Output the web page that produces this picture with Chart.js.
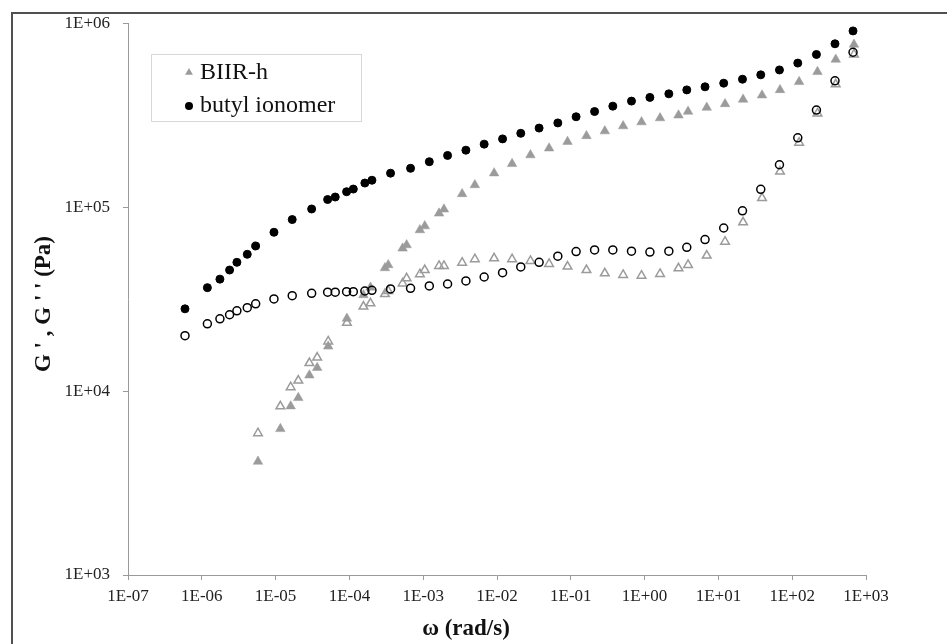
<!DOCTYPE html>
<html>
<head>
<meta charset="utf-8">
<script src="https://cdn.jsdelivr.net/npm/chart.js@4.4.1/dist/chart.umd.min.js"></script>
<style>
  html, body { margin: 0; padding: 0; background: #fff; overflow: hidden; }
  #wrap { position: relative; width: 947px; height: 644px; overflow: hidden; }
  #frame {
    position: absolute; left: 11px; top: 12px; width: 960px; height: 660px;
    border-left: 2px solid #505050; border-top: 2px solid #505050;
    box-sizing: border-box; pointer-events: none;
  }
  canvas { position: absolute; left: 0; top: 0; }
</style>
</head>
<body>
<div id="wrap">
  <canvas id="chart" width="947" height="644"></canvas>
  <div id="frame"></div>
</div>
<script>
// frequency (rad/s) and moduli (Pa)
const butylFreq = [5.92e-7, 1.19e-6, 1.76e-6, 2.38e-6, 2.99e-6, 4.13e-6, 5.37e-6, 9.5e-6, 1.68e-5, 3.08e-5,
  5.07e-5, 6.43e-5, 9.16e-5, 1.13e-4, 1.62e-4, 2.02e-4, 3.61e-4, 6.74e-4, 1.21e-3, 2.14e-3,
  3.79e-3, 6.7e-3, 1.19e-2, 2.10e-2, 3.72e-2, 6.67e-2, 0.118, 0.210, 0.371, 0.664,
  1.18, 2.13, 3.73, 6.59, 11.8, 21.2, 37.5, 67.2, 119, 213, 380, 667];
const butylGp = [2.80e4, 3.65e4, 4.06e4, 4.55e4, 5.01e4, 5.54e4, 6.15e4, 7.30e4, 8.56e4, 9.77e4,
  1.10e5, 1.135e5, 1.213e5, 1.254e5, 1.352e5, 1.40e5, 1.53e5, 1.626e5, 1.766e5, 1.91e5,
  2.04e5, 2.20e5, 2.35e5, 2.52e5, 2.69e5, 2.87e5, 3.10e5, 3.31e5, 3.54e5, 3.77e5,
  3.95e5, 4.13e5, 4.34e5, 4.51e5, 4.72e5, 4.96e5, 5.24e5, 5.57e5, 6.07e5, 6.76e5, 7.73e5, 9.08e5];
const butylGpp = [2.00e4, 2.32e4, 2.47e4, 2.60e4, 2.73e4, 2.84e4, 2.98e4, 3.17e4, 3.30e4, 3.40e4,
  3.45e4, 3.45e4, 3.47e4, 3.47e4, 3.50e4, 3.53e4, 3.59e4, 3.62e4, 3.73e4, 3.82e4,
  3.97e4, 4.17e4, 4.40e4, 4.73e4, 5.01e4, 5.41e4, 5.73e4, 5.85e4, 5.85e4, 5.76e4,
  5.70e4, 5.76e4, 6.05e4, 6.66e4, 7.70e4, 9.55e4, 1.25e5, 1.70e5, 2.38e5, 3.37e5, 4.86e5, 6.95e5];

const biirFreq = [5.77e-6, 1.16e-5, 1.60e-5, 2.03e-5, 2.87e-5, 3.66e-5, 5.16e-5, 9.25e-5, 1.55e-4, 1.93e-4,
  3.03e-4, 3.36e-4, 5.26e-4, 5.96e-4, 9.02e-4, 1.05e-3, 1.64e-3, 1.91e-3, 3.37e-3, 5.01e-3,
  9.14e-3, 1.60e-2, 2.84e-2, 5.08e-2, 9.03e-2, 0.163, 0.289, 0.512, 0.908, 1.62,
  2.88, 3.88, 6.95, 12.3, 21.6, 39.0, 68.4, 124, 220, 389, 687];
const biirGp = [4.14e3, 6.23e3, 8.28e3, 9.19e3, 1.22e4, 1.34e4, 1.75e4, 2.48e4, 3.33e4, 3.66e4,
  4.67e4, 4.85e4, 5.97e4, 6.22e4, 7.51e4, 7.89e4, 9.25e4, 9.73e4, 1.18e5, 1.32e5,
  1.53e5, 1.72e5, 1.92e5, 2.09e5, 2.27e5, 2.44e5, 2.59e5, 2.76e5, 2.90e5, 3.05e5,
  3.16e5, 3.31e5, 3.48e5, 3.64e5, 3.85e5, 4.06e5, 4.34e5, 4.80e5, 5.44e5, 6.35e5, 7.66e5];
const biirGpp = [5.90e3, 8.26e3, 1.05e4, 1.14e4, 1.42e4, 1.52e4, 1.86e4, 2.35e4, 2.88e4, 3.00e4,
  3.37e4, 3.50e4, 3.85e4, 4.10e4, 4.32e4, 4.55e4, 4.79e4, 4.79e4, 4.99e4, 5.21e4,
  5.27e4, 5.21e4, 5.10e4, 4.91e4, 4.75e4, 4.55e4, 4.37e4, 4.28e4, 4.24e4, 4.33e4,
  4.65e4, 4.85e4, 5.45e4, 6.49e4, 8.27e4, 1.12e5, 1.56e5, 2.24e5, 3.23e5, 4.65e5, 6.76e5];

const xTicks = [1e-7, 1e-6, 1e-5, 1e-4, 1e-3, 1e-2, 1e-1, 1e0, 1e1, 1e2, 1e3];
const yTicks = [1e3, 1e4, 1e5, 1e6];

const legendItems = ['BIIR-h', 'butyl ionomer'];
const xTitle = 'ω (rad/s)';
const yTitle = "G ' , G ' ' (Pa)";

const GRAY = '#9b9b9b';
const AXIS = '#9a9a9a';
const SERIF = '"Liberation Serif", "Times New Roman", serif';

function pts(xs, ys) {
    return xs.map((x, i) => ({ x, y: ys[i] }));
}

// 1E-07 style labels
function expLabel(v) {
    const e = Math.round(Math.log10(v));
    return '1E' + (e < 0 ? '-' : '+') + String(Math.abs(e)).padStart(2, '0');
}

function tri(ctx, x, y, r) {
    ctx.beginPath();
    ctx.moveTo(x, y - r);
    ctx.lineTo(x + r * Math.sin(2 * Math.PI / 3), y + r / 2);
    ctx.lineTo(x - r * Math.sin(2 * Math.PI / 3), y + r / 2);
    ctx.closePath();
}

// axis titles and the inner legend box
const annotate = {
    id: 'annotate',
    afterDraw(chart) {
        const ctx = chart.ctx;
        ctx.save();
        ctx.fillStyle = '#111';
        ctx.font = 'bold 23px ' + SERIF;
        ctx.textAlign = 'center';
        ctx.textBaseline = 'middle';
        ctx.fillText(xTitle, 466, 629);

        ctx.translate(44, 304);
        ctx.rotate(-Math.PI / 2);
        ctx.fillText(yTitle, 0, 0);
        ctx.restore();

        ctx.save();
        ctx.strokeStyle = '#d8d8d8';
        ctx.lineWidth = 1;
        ctx.strokeRect(151.5, 54.5, 210, 67);

        ctx.fillStyle = GRAY;
        tri(ctx, 189, 72.5, 4.5);
        ctx.fill();
        ctx.fillStyle = '#000';
        ctx.beginPath();
        ctx.arc(189, 106, 4, 0, Math.PI * 2);
        ctx.fill();

        ctx.fillStyle = '#111';
        ctx.font = '24px ' + SERIF;
        ctx.textAlign = 'left';
        ctx.textBaseline = 'alphabetic';
        ctx.fillText(legendItems[0], 200, 79);
        ctx.fillText(legendItems[1], 200, 112);
        ctx.restore();
    }
};

const tickFont = { family: SERIF, size: 17 };

new Chart(document.getElementById('chart'), {
    type: 'scatter',
    data: {
        datasets: [
            {
                label: 'butyl ionomer G\'',
                data: pts(butylFreq, butylGp),
                pointStyle: 'circle',
                pointRadius: 4,
                borderWidth: 1,
                backgroundColor: '#000',
                borderColor: '#000'
            },
            {
                label: 'butyl ionomer G\'\'',
                data: pts(butylFreq, butylGpp),
                pointStyle: 'circle',
                pointRadius: 4,
                borderWidth: 1.5,
                backgroundColor: 'rgba(255,255,255,0)',
                borderColor: '#000'
            },
            {
                label: 'BIIR-h G\'',
                data: pts(biirFreq, biirGp),
                pointStyle: 'triangle',
                pointRadius: 5.5,
                borderWidth: 0.5,
                backgroundColor: GRAY,
                borderColor: GRAY
            },
            {
                label: 'BIIR-h G\'\'',
                data: pts(biirFreq, biirGpp),
                pointStyle: 'triangle',
                pointRadius: 5,
                borderWidth: 1.5,
                backgroundColor: 'rgba(255,255,255,0)',
                borderColor: GRAY
            }
        ]
    },
    options: {
        responsive: false,
        animation: false,
        events: [],
        layout: { padding: { left: 0, right: 81, top: 23, bottom: 0 } },
        plugins: {
            legend: { display: false },
            tooltip: { enabled: false }
        },
        scales: {
            x: {
                type: 'logarithmic',
                min: 1e-7,
                max: 1e3,
                afterBuildTicks: s => { s.ticks = xTicks.map(v => ({ value: v })); },
                afterFit: s => { s.height = 69; },
                ticks: {
                    callback: v => expLabel(v),
                    font: tickFont,
                    color: '#222',
                    padding: 6,
                    autoSkip: false,
                    maxRotation: 0
                },
                grid: { display: true, drawOnChartArea: false, drawTicks: true, tickLength: 5, color: AXIS },
                border: { display: true, color: AXIS, width: 1 }
            },
            y: {
                type: 'logarithmic',
                min: 1e3,
                max: 1e6,
                afterBuildTicks: s => { s.ticks = yTicks.map(v => ({ value: v })); },
                afterFit: s => { s.width = 128; },
                ticks: {
                    callback: v => expLabel(v),
                    font: tickFont,
                    color: '#222',
                    padding: 13,
                    autoSkip: false
                },
                grid: { display: true, drawOnChartArea: false, drawTicks: true, tickLength: 5, color: AXIS },
                border: { display: true, color: AXIS, width: 1 }
            }
        }
    },
    plugins: [annotate]
});
</script>
</body>
</html>
